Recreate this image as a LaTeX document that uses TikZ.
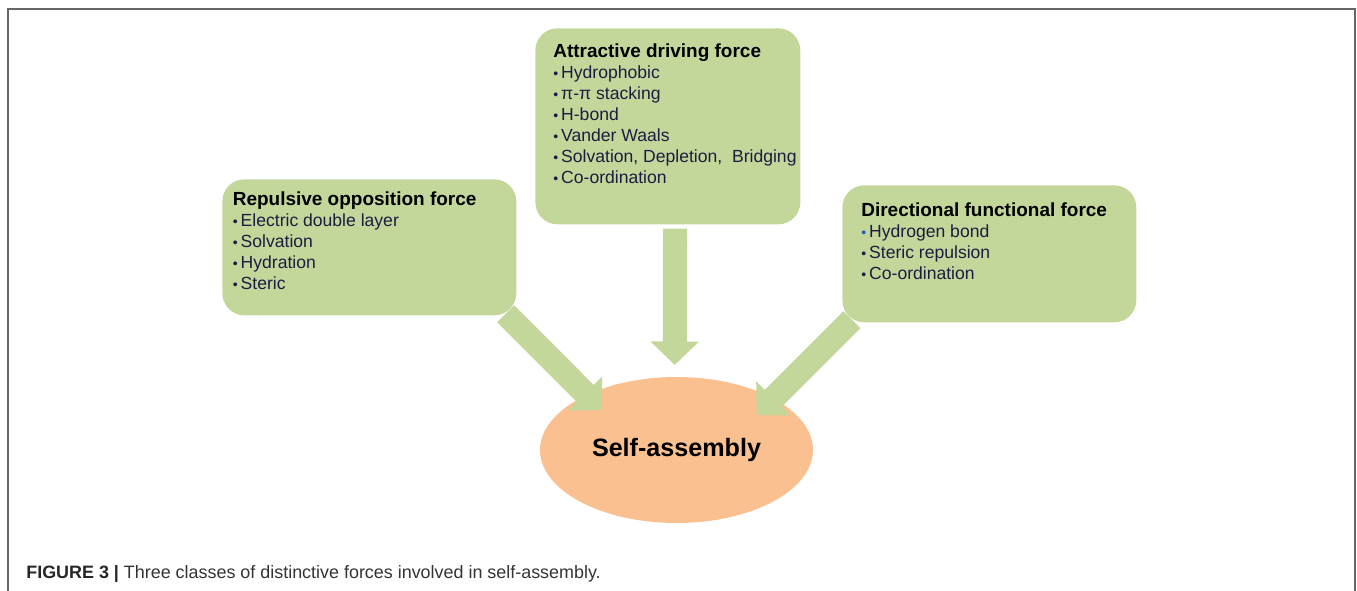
\documentclass[tikz,border=0pt]{standalone}
\usepackage{fontspec}
\setmainfont{Liberation Sans}
\usetikzlibrary{arrows.meta,calc,shapes.geometric}

\definecolor{boxgreen}{RGB}{196,215,155}
\definecolor{selforange}{RGB}{250,192,144}
\definecolor{itemnavy}{RGB}{28,28,64}
\definecolor{dotblue}{RGB}{40,90,190}
\definecolor{capgray}{RGB}{51,51,51}

% box body: width, height, lines
\newcommand{\forcebody}[3]{%
  \begin{minipage}[t][#2][t]{#1}\raggedright
    \fontsize{10}{11.95}\selectfont\color{itemnavy}#3%
  \end{minipage}}
\newcommand{\forcehead}[1]{{\fontsize{10.8}{11.95}\selectfont\bfseries\color{black}#1}\\}
\newcommand{\itm}[2][itemnavy]{\mbox{{\color{#1}\footnotesize\textbullet}\,#2}}

\begin{document}
\begin{tikzpicture}
    [x=0.02cm,y=-0.02cm,
     forcebox/.style={fill=boxgreen, rounded corners=0.44cm,
       anchor=north west, inner xsep=#1},
     bigarrow/.style={draw=boxgreen, line width=0.48cm,
       -{Triangle[width=0.94cm,length=0.47cm]}}]
    \useasboundingbox (0,0) rectangle (1357,591);

    % outer frame, open at the bottom
    \draw[black!60, line width=0.03cm] (8,591) -- (8,9) -- (1355,9) -- (1355,591);

    % the three kinds of force
    \node[forcebox=0.36cm, inner ysep=0.3cm] (attract) at (535,28)
      {\forcebody{4.58cm}{3.32cm}{\forcehead{Attractive driving force}
        \itm{Hydrophobic}\\
        \itm{π-π stacking}\\
        \itm{H-bond}\\
        \itm{Vander Waals}\\
        \itm{Solvation, Depletion,\ \ Bridging}\\
        \itm{Co-ordination}}};
    \node[forcebox=0.21cm, inner ysep=0.24cm] (repulse) at (222,179)
      {\forcebody{5.46cm}{2.24cm}{\forcehead{Repulsive opposition force}
        \itm{Electric double layer}\\
        \itm{Solvation}\\
        \itm{Hydration}\\
        \itm{Steric}}};
    \node[forcebox=0.38cm, inner ysep=0.34cm] (direct) at (842,185)
      {\forcebody{5.12cm}{2.06cm}{\forcehead{Directional functional force}
        \itm[dotblue]{Hydrogen bond}\\
        \itm{Steric repulsion}\\
        \itm{Co-ordination}}};

    \node[ellipse, fill=selforange, minimum width=5.46cm, minimum height=2.92cm,
      inner sep=0pt, font=\fontsize{14.3}{16}\selectfont\bfseries] (selfasm)
      at (676.5,450) {Self-assembly};

    % arrow tips sit on the ellipse
    \coordinate (midtip) at (674.7,365);
    \coordinate (lefttip) at (601.7,410);
    \coordinate (righttip) at (756.7,415);

    \draw[bigarrow] ($(attract.south)+(7.2,4)$) -- (midtip);
    \draw[bigarrow] ($(repulse.south east)+(-11,-2)$) -- (lefttip);
    \draw[bigarrow] ($(direct.south west)+(10,-3)$) -- (righttip);

    \node[anchor=base west, inner sep=0pt, text=capgray,
      font=\fontsize{10.2}{12}\selectfont] (caption) at (26,579)
      {\textbf{\color{black!85}FIGURE 3 |} Three classes of distinctive forces involved in self-assembly.};
  \end{tikzpicture}
\end{document}
